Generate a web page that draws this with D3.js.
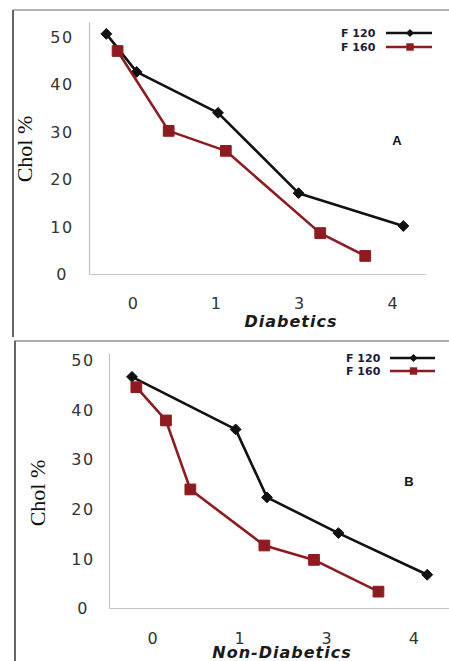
<!DOCTYPE html>
<html><head><meta charset="utf-8">
<script src="https://cdn.jsdelivr.net/npm/d3@7"></script>
<style>body{margin:0;background:#fff}svg{display:block}</style>
</head><body>
<svg id="c" width="449" height="661"></svg>
<script>
// ---- data ----
const xTickLabels = ["0", "1", "3", "4"];
const xTickPosA = [0, 0.96, 1.92, 3];
const xTickPosB = [0, 1, 2, 3];
const yTicks = [0, 10, 20, 30, 40, 50];
const seriesNames = ["F 120", "F 160"];
const panelLabels = ["A", "B"];
const xTitles = ["Diabetics", "Non-Diabetics"];
const yTitle = "Chol %";

const aF120x = [-0.30, 0.05, 0.99, 1.92, 3.13];
const aF120y = [50.5, 42.5, 33.9, 17.0, 10.1];
const aF160x = [-0.17, 0.42, 1.08, 2.17, 2.69];
const aF160y = [46.9, 30.1, 25.9, 8.6, 3.8];

const bF120x = [-0.23, 0.96, 1.32, 2.14, 3.16];
const bF120y = [46.6, 36.0, 22.3, 15.1, 6.7];
const bF160x = [-0.18, 0.16, 0.44, 1.29, 1.86, 2.60];
const bF160y = [44.5, 37.8, 23.9, 12.6, 9.7, 3.3];

const colors = ["#111111", "#8e1b1f"];

const svg = d3.select("#c");

// panel frames
svg.append("line").attr("x1",13).attr("y1",10).attr("x2",449).attr("y2",10).attr("stroke","#9a9a9a").attr("stroke-width",1.5);
svg.append("line").attr("x1",13).attr("y1",10).attr("x2",13).attr("y2",337).attr("stroke","#666").attr("stroke-width",2);
svg.append("line").attr("x1",14).attr("y1",341).attr("x2",449).attr("y2",341).attr("stroke","#aaa").attr("stroke-width",2);
svg.append("line").attr("x1",15).attr("y1",341).attr("x2",15).attr("y2",661).attr("stroke","#666").attr("stroke-width",2);

const panels = [
  {xd:[-0.5,3.38], xr:[89,425], yd:[0,53], yr:[274,22], ticks:xTickPosA,
   ylabX:62, xlabY:309, titleX:291, titleY:327, yTitleX:32, yTitleY:149,
   legX:341, legY:[33,47], legL:[386,432], labX:397, labY:145,
   series:[[aF120x,aF120y],[aF160x,aF160y]]},
  {xd:[-0.494,3.41], xr:[109,449], yd:[0,51.4], yr:[608,353], ticks:xTickPosB,
   ylabX:83, xlabY:644, titleX:282, titleY:658, yTitleX:45, yTitleY:493,
   legX:346, legY:[358,371], legL:[390,435], labX:409, labY:486,
   series:[[bF120x,bF120y],[bF160x,bF160y]]}
];

panels.forEach((p, pi) => {
  const x = d3.scaleLinear().domain(p.xd).range(p.xr);
  const y = d3.scaleLinear().domain(p.yd).range(p.yr);
  const g = svg.append("g");

  // y axis
  const ya = g.append("g").attr("transform",`translate(${p.xr[0]},0)`)
    .call(d3.axisLeft(y).tickValues(yTicks).tickSize(0).tickPadding(0));
  ya.select(".domain").attr("stroke","#c4c4c4").attr("stroke-width",1.2);
  ya.selectAll("text").attr("x", p.ylabX - p.xr[0]).attr("text-anchor","middle")
    .attr("dy","0.36em").attr("font-family","DejaVu Sans").attr("font-size",16)
    .attr("fill","#333").attr("letter-spacing",1.5);

  // x axis
  const xa = g.append("g").attr("transform",`translate(0,${p.yr[0]})`)
    .call(d3.axisBottom(x).tickValues(p.ticks).tickFormat((d,i)=>xTickLabels[i]).tickSize(0).tickPadding(0));
  xa.select(".domain").attr("stroke","#c4c4c4").attr("stroke-width",1.2);
  xa.selectAll("text").attr("y", p.xlabY - p.yr[0]).attr("dy",0)
    .attr("font-family","DejaVu Sans").attr("font-size",16).attr("fill","#333");

  // x title
  g.append("text").attr("x",p.titleX).attr("y",p.titleY).attr("text-anchor","middle")
    .attr("font-family","DejaVu Sans").attr("font-weight","bold").attr("font-style","italic")
    .attr("font-size",16).attr("fill","#1a1a1a").attr("letter-spacing",1).text(xTitles[pi]);

  // y title
  g.append("text").attr("transform",`translate(${p.yTitleX},${p.yTitleY}) rotate(-90)`)
    .attr("text-anchor","middle").attr("font-family","Liberation Serif").attr("font-size",22)
    .attr("fill","#111").text(yTitle);

  // panel label
  g.append("text").attr("x",p.labX).attr("y",p.labY).attr("text-anchor","middle")
    .attr("font-family","Liberation Sans").attr("font-weight","bold").attr("font-size",13)
    .attr("fill","#111").text(panelLabels[pi]);

  // series
  p.series.forEach((s, si) => {
    const pts = s[0].map((xv,i)=>[xv, s[1][i]]);
    g.append("path").datum(pts)
      .attr("d", d3.line().x(d=>x(d[0])).y(d=>y(d[1])))
      .attr("fill","none").attr("stroke",colors[si]).attr("stroke-width",2.6).attr("stroke-linejoin","round");
    const sym = si===0 ? d3.symbol().type(d3.symbolDiamond2).size(75) : d3.symbol().type(d3.symbolSquare).size(115);
    g.selectAll(null).data(pts).enter().append("path")
      .attr("d", sym).attr("transform", d=>`translate(${x(d[0])},${y(d[1])})`)
      .attr("fill",colors[si]).attr("stroke",colors[si]).attr("stroke-width",1).attr("stroke-linejoin","round");
  });

  // legend
  seriesNames.forEach((n, si) => {
    const ly = p.legY[si];
    g.append("text").attr("x",p.legX).attr("y",ly).attr("dy","0.35em")
      .attr("font-family","DejaVu Sans").attr("font-weight","bold").attr("font-size",11)
      .attr("fill","#1c1c3a").text(n);
    g.append("line").attr("x1",p.legL[0]).attr("x2",p.legL[1]).attr("y1",ly).attr("y2",ly)
      .attr("stroke",colors[si]).attr("stroke-width",2.4);
    const sym = si===0 ? d3.symbol().type(d3.symbolDiamond2).size(40) : d3.symbol().type(d3.symbolSquare).size(55);
    g.append("path").attr("d",sym).attr("transform",`translate(${(p.legL[0]+p.legL[1])/2+1},${ly})`)
      .attr("fill",colors[si]);
  });
});
</script>
</body></html>
